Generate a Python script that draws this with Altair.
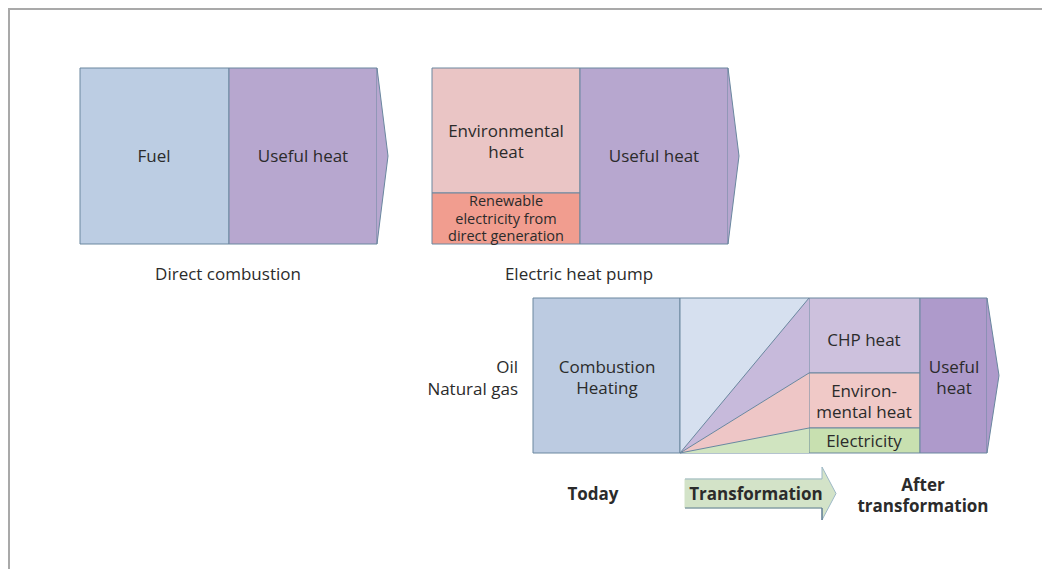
import altair as alt
import pandas as pd

# ---------------- diagram data (diagram units = page pixels) ----------------
# rectangular blocks
blk_name = ["Fuel", "Useful heat (A)", "Environmental heat (B)", "Renewable electricity (B)",
            "Useful heat (B)", "Combustion heating", "Transition", "CHP heat",
            "Environmental heat (C)", "Electricity", "Useful heat (C)", "Transformation shaft"]
blk_x0 = [80, 229, 432, 432, 580, 533, 680, 809, 809, 809, 920, 685]
blk_x1 = [229, 377, 580, 580, 728, 680, 809, 920, 920, 920, 987, 822]
blk_y0 = [68, 68, 68, 193, 68, 298, 298, 298, 373, 428, 298, 479]
blk_y1 = [244, 244, 193, 244, 244, 453, 453, 373, 428, 453, 453, 508]
blk_fill = ["#bccde3", "#b7a7cf", "#eac5c5", "#f19d8f", "#b7a7cf", "#bccbe1", "#d6e0ef",
            "#cdc1dd", "#f0c9c7", "#c8e0b0", "#ae9acb", "#d3e3c8"]
blk_stroke = ["#6a879f"] * 11 + ["#d3e3c8"]

# triangular pieces (area between two edges)
tri_id = ["arrowA", "arrowB", "arrowC", "fanCHP", "fanEnv", "fanElec", "transHead"]
tri_xa = [377, 728, 987, 680, 680, 680, 822]
tri_xb = [388, 739, 999, 809, 809, 809, 836]
tri_ya_top = [68, 68, 298, 453, 453, 453, 467]
tri_ya_bot = [244, 244, 453, 453, 453, 453, 520]
tri_yb_top = [156, 156, 375.5, 298, 373, 428, 493.5]
tri_yb_bot = [156, 156, 375.5, 373, 428, 453, 493.5]
tri_fill = ["#b7a7cf", "#b7a7cf", "#ae9acb", "#c7badb", "#eec6c6", "#d0e4c0", "#d3e3c8"]

# line segments
seg_x0 = [377, 388, 728, 739, 987, 999, 680, 680, 680,
          685, 822, 822, 836, 822, 685, 822]
seg_y0 = [68, 156, 68, 156, 298, 375.5, 453, 453, 453,
          479, 479, 467, 493.5, 520, 508, 508]
seg_x1 = [388, 377, 739, 728, 999, 987, 809, 809, 809,
          822, 822, 836, 822, 822, 822, 822]
seg_y1 = [156, 244, 156, 244, 375.5, 453, 298, 373, 428,
          479, 467, 493.5, 520, 508, 508, 520]
seg_kind = ["edge"] * 9 + ["outline"] * 4 + ["shadow"] * 3

# frame lines
frame_x0 = [8, 9]
frame_y0 = [9, 8]
frame_x1 = [1042, 9]
frame_y1 = [9, 569]

# labels (y = first line)
lab_text = ["Fuel", "Useful heat", "Environmental\nheat", "Useful heat",
            "Direct combustion", "Electric heat pump", "Combustion\nHeating",
            "CHP heat", "Environ-\nmental heat", "Electricity", "Useful\nheat"]
lab_x = [154, 303, 506, 654, 228, 579, 607, 864, 864, 864, 954]
lab_y = [157, 157, 132, 157, 275, 275, 368, 341, 392, 442, 368]
lab_lh = [21, 21, 21, 21, 21, 21, 21, 21, 21, 21, 21]

small_text = ["Renewable\nelectricity from\ndirect generation"]
small_x = [506]
small_y = [202]

side_text = ["Oil\nNatural gas"]
side_x = [518]
side_y = [368]

bold_text = ["Today", "Transformation", "After\ntransformation"]
bold_x = [593, 756, 923]
bold_y = [495, 495, 486]

# ---------------- build tables ----------------
blocks = pd.DataFrame(dict(name=blk_name, x=blk_x0, x2=blk_x1, y=blk_y0, y2=blk_y1,
                           fill=blk_fill, stroke=blk_stroke))
tri_rows = []
for i, t in enumerate(tri_id):
    tri_rows.append(dict(id=t, x=tri_xa[i], y=tri_ya_top[i], y2=tri_ya_bot[i], fill=tri_fill[i]))
    tri_rows.append(dict(id=t, x=tri_xb[i], y=tri_yb_top[i], y2=tri_yb_bot[i], fill=tri_fill[i]))
tris = pd.DataFrame(tri_rows)
segs = pd.DataFrame(dict(x=seg_x0, y=seg_y0, x2=seg_x1, y2=seg_y1, kind=seg_kind))
frame = pd.DataFrame(dict(x=frame_x0, y=frame_y0, x2=frame_x1, y2=frame_y1))
labels = pd.DataFrame(dict(x=lab_x, y=lab_y, text=lab_text, lh=lab_lh))
small = pd.DataFrame(dict(x=small_x, y=small_y, text=small_text))
side = pd.DataFrame(dict(x=side_x, y=side_y, text=side_text))
bold = pd.DataFrame(dict(x=bold_x, y=bold_y, text=bold_text))

XS = alt.Scale(domain=[8, 1042], nice=False, zero=False)
YS = alt.Scale(domain=[8, 569], nice=False, zero=False, reverse=True)
X = alt.X("x:Q", scale=XS, axis=None)
Y = alt.Y("y:Q", scale=YS, axis=None)

FONT = "Open Sans"
FS = 17
TXT = "#2b2b2b"

rects = alt.Chart(blocks).mark_rect(strokeWidth=1).encode(
    x=X, x2="x2:Q", y=Y, y2="y2:Q",
    fill=alt.Fill("fill:N", scale=None),
    stroke=alt.Stroke("stroke:N", scale=None))

areas = alt.Chart(tris).mark_area(interpolate="linear").encode(
    x=X, y=Y, y2="y2:Q", detail="id:N",
    fill=alt.Fill("fill:N", scale=None))

edge_colors = alt.Scale(domain=["edge", "outline", "shadow"],
                        range=["#6a879f", "#9db8c6", "#5f7c93"])
lines = alt.Chart(segs).mark_rule().encode(
    x=X, x2="x2:Q", y=Y, y2="y2:Q",
    color=alt.Color("kind:N", scale=edge_colors, legend=None),
    strokeWidth=alt.StrokeWidth("kind:N", scale=alt.Scale(domain=["edge", "outline", "shadow"],
                                                          range=[1, 1, 2]), legend=None))

frame_l = alt.Chart(frame).mark_rule(color="#a9a9a9", strokeWidth=2).encode(
    x=X, x2="x2:Q", y=Y, y2="y2:Q")

lab_layers = []
for lh in sorted(set(lab_lh)):
    sub = labels[labels.lh == lh]
    lab_layers.append(alt.Chart(sub).mark_text(font=FONT, fontSize=FS, color=TXT,
                                               lineBreak="\n", lineHeight=lh,
                                               align="center", baseline="middle").encode(
        x=X, y=Y, text="text:N"))

small_l = alt.Chart(small).mark_text(font=FONT, fontSize=14.5, color=TXT, lineBreak="\n",
                                     lineHeight=17.5, align="center", baseline="middle").encode(
    x=X, y=Y, text="text:N")

side_l = alt.Chart(side).mark_text(font=FONT, fontSize=FS, color=TXT, lineBreak="\n",
                                   lineHeight=22, align="right", baseline="middle").encode(
    x=X, y=Y, text="text:N")

bold_l = alt.Chart(bold).mark_text(font=FONT, fontSize=FS, fontWeight="bold", color=TXT,
                                   lineBreak="\n", lineHeight=21, align="center",
                                   baseline="middle").encode(x=X, y=Y, text="text:N")

chart = alt.layer(frame_l, rects, areas, lines, *lab_layers, small_l, side_l, bold_l).properties(
    width=1034, height=561, autosize=alt.AutoSizeParams(type="none"), padding=0
).configure_view(stroke=None)

chart.save("out.html", embed_options={"renderer": "svg", "actions": False})
